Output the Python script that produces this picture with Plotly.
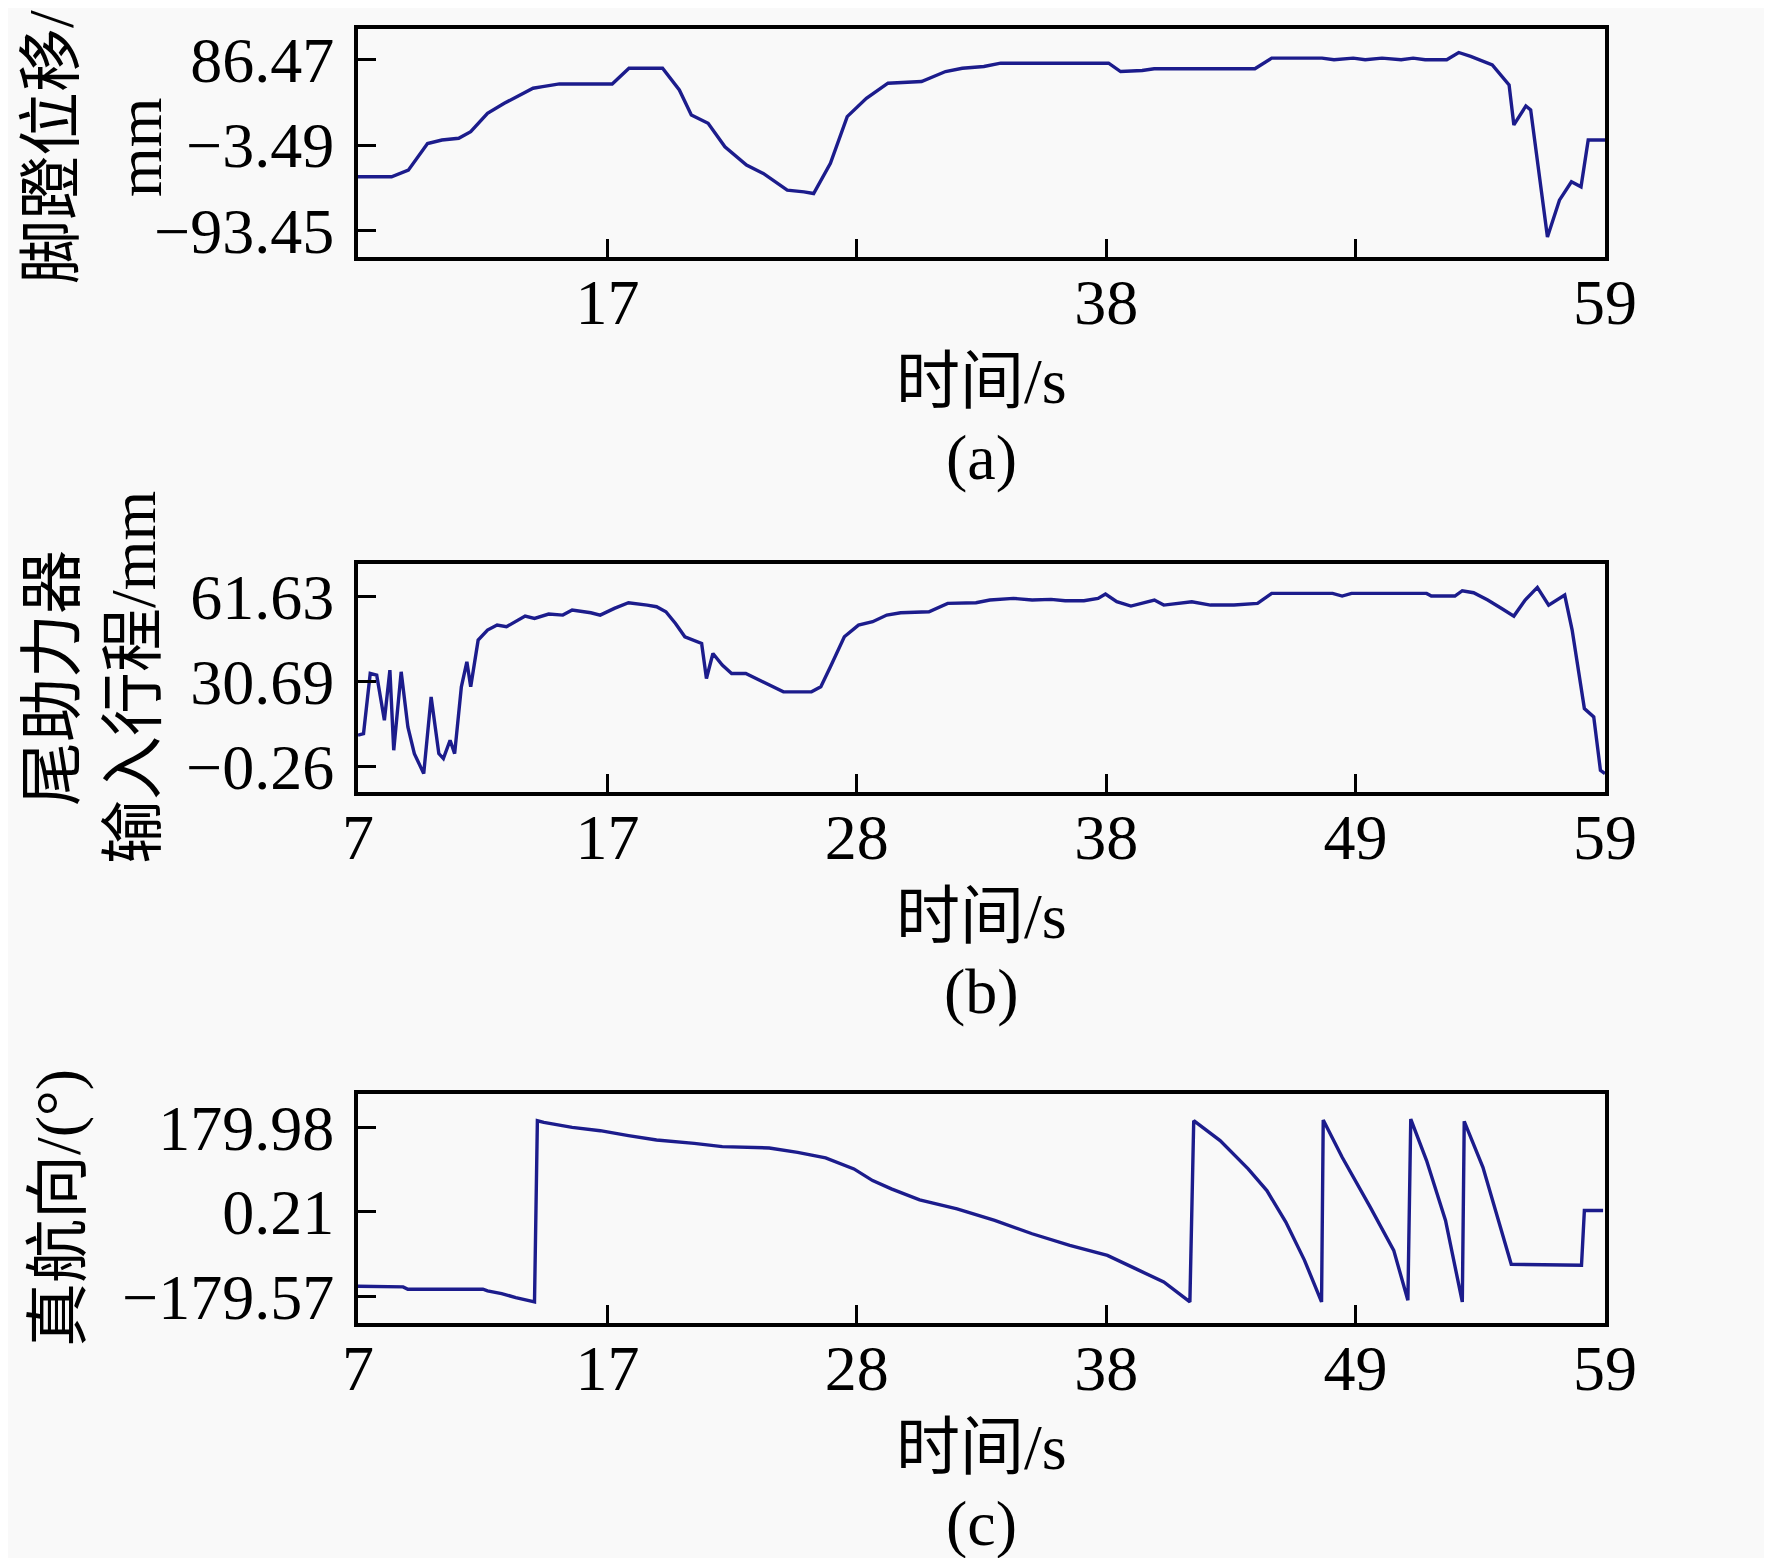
import plotly.graph_objects as go

# ---------------- data ----------------
time_a = [7.0, 7.2, 8.4, 9.1, 9.9, 10.5, 11.2, 11.7, 12.4, 13.1, 14.0, 14.3, 14.7, 15.4,
          17.6, 18.3, 19.7, 20.4, 20.9, 21.6, 22.3, 23.2, 23.9, 24.9, 25.6, 26.0, 26.7,
          27.4, 28.2, 29.1, 30.5, 31.5, 32.2, 33.1, 33.8, 38.3, 38.8, 39.7, 40.2, 44.4,
          45.1, 47.2, 47.7, 48.5, 49.0, 49.7, 50.5, 51.0, 51.5, 52.4, 52.9, 53.4, 54.3,
          55.0, 55.2, 55.7, 55.9, 56.2, 56.6, 57.1, 57.6, 58.0, 58.3, 59.0]
pedal_mm = [-37.0, -37.0, -37.0, -30.0, -2.0, 1.8, 3.6, 10.6, 30.0, 40.6, 52.0, 56.5, 58.2, 61.0,
            61.0, 77.6, 77.6, 54.7, 28.3, 19.4, -5.3, -24.7, -33.5, -51.1, -52.9, -54.7, -22.9,
            26.5, 45.9, 61.8, 63.5, 74.1, 77.6, 79.4, 82.9, 82.9, 74.1, 75.2, 77.0, 77.0,
            88.2, 88.2, 86.5, 88.2, 86.5, 88.2, 86.5, 88.2, 86.5, 86.5, 94.2, 90.0, 81.2,
            60.0, 17.7, 37.8, 33.6, -26.4, -100.5, -61.7, -42.3, -47.6, 1.8, 1.8]

time_b = [7.00, 7.23, 7.51, 7.78, 8.10, 8.33, 8.49, 8.80, 9.08, 9.35, 9.74, 10.05, 10.37, 10.56,
          10.84, 11.03, 11.31, 11.54, 11.70, 12.01, 12.40, 12.80, 13.19, 13.58, 13.97, 14.36,
          14.95, 15.54, 15.93, 16.71, 17.10, 17.69, 18.28, 19.06, 19.45, 19.84, 20.24, 20.63,
          21.02, 21.33, 21.53, 21.80, 22.19, 22.58, 23.17, 23.76, 24.15, 24.74, 25.91, 26.30,
          26.70, 27.28, 27.87, 28.46, 29.05, 29.63, 30.81, 31.59, 32.77, 33.35, 34.33, 35.11,
          35.90, 36.49, 37.27, 37.86, 38.17, 38.64, 39.23, 39.62, 40.21, 40.60, 41.77, 42.55,
          43.53, 44.51, 45.10, 45.49, 47.64, 48.04, 48.43, 51.56, 51.76, 52.74, 53.05, 53.52,
          54.11, 54.69, 55.20, 55.67, 56.18, 56.65, 57.32, 57.63, 58.14, 58.53, 58.81, 59.00]
booster_mm = [11.28, 11.88, 33.72, 33.12, 16.74, 34.94, 5.82, 34.33, 14.31, 4.60, -2.67, 25.23,
              4.60, 2.78, 9.46, 4.60, 28.87, 37.97, 28.87, 45.86, 49.50, 51.32, 50.71, 52.53,
              54.59, 53.74, 55.32, 54.96, 56.78, 55.81, 54.96, 57.38, 59.45, 58.60, 57.99, 56.17,
              51.92, 47.07, 45.86, 44.64, 31.90, 41.00, 36.76, 33.72, 33.72, 31.30, 29.48, 27.05,
              27.05, 28.87, 36.15, 47.07, 51.32, 52.53, 54.96, 55.81, 56.17, 59.20, 59.45, 60.42,
              61.02, 60.42, 60.66, 60.17, 60.17, 61.02, 62.60, 59.81, 58.23, 59.20, 60.42, 58.60,
              59.81, 58.60, 58.60, 59.20, 62.84, 62.84, 62.84, 61.87, 62.84, 62.84, 61.87, 61.87,
              63.81, 63.09, 60.42, 57.38, 54.59, 60.42, 65.03, 58.60, 62.23, 49.50, 20.98, 17.95,
              -1.46, -2.67]

time_c = [7.00, 8.88, 9.08, 12.21, 12.40, 12.99, 13.58, 14.36, 14.48, 14.75, 15.93, 17.10,
          18.28, 19.45, 21.02, 22.19, 24.15, 25.33, 26.50, 27.68, 28.46, 29.24, 30.42, 31.98,
          33.55, 35.11, 36.68, 38.25, 39.42, 40.60, 41.69, 41.85, 42.95, 44.12, 44.90, 45.69,
          46.47, 47.18, 47.25, 48.04, 49.21, 50.19, 50.78, 50.90, 51.56, 52.35, 53.05, 53.13,
          53.91, 55.09, 58.02, 58.14, 58.92]
heading_deg = [-158.3, -159.7, -164.7, -164.7, -168.2, -173.9, -182.4, -191.6, 194.1, 190.6,
               180.0, 172.9, 162.3, 153.1, 146.0, 138.9, 136.1, 126.9, 114.9, 91.5, 66.7, 49.0,
               25.6, 6.6, -18.2, -46.5, -71.3, -92.5, -120.8, -149.1, -191.6, 194.1, 151.7, 91.5,
               45.5, -21.7, -103.1, -191.6, 195.5, 116.3, 10.1, -81.9, -188.1, 197.7, 109.2,
               -18.2, -191.6, 192.7, 95.05, -111.6, -113.7, 3.04, 3.04]

x_tickvals = [7.0, 17.4, 27.8, 38.2, 48.6, 59.0]
x_ticktext_full = ["7", "17", "28", "38", "49", "59"]
x_ticktext_a = ["", "17", "", "38", "", "59"]

y_tickvals_a = [-93.45, -3.49, 86.47]
y_ticktext_a = ["\u221293.45", "\u22123.49", "86.47"]
y_tickvals_b = [-0.26, 30.69, 61.63]
y_ticktext_b = ["\u22120.26", "30.69", "61.63"]
y_tickvals_c = [-179.57, 0.21, 179.98]
y_ticktext_c = ["\u2212179.57", "0.21", "179.98"]

x_title = "时间/s"
panel_labels = ["(a)", "(b)", "(c)"]
y_title_a = ["脚蹬位移/", "mm"]
y_title_b = ["尾助力器", "输入行程/mm"]
y_title_c = ["真航向/(°)"]

# ---------------- layout geometry (page pixels, page body has 8px margin) ----------------
OFF = 8
W, H = 1772 - 2 * OFF, 1566 - 2 * OFF
L, R = 358 - OFF, 1605 - OFF
T, B = 29 - OFF, 1323 - OFF
AH = B - T


def py(y):
    return (B - (y - OFF)) / AH


def px(x):
    return ((x - OFF) - L) / (R - L)


FONT = "Liberation Serif, Times New Roman, Noto Sans CJK SC"
FS = 64
LINE = "#1c1c8c"
BG = "#f9f9f9"

fig = go.Figure()
fig.add_trace(go.Scatter(x=time_a, y=pedal_mm, mode="lines", line=dict(color=LINE, width=3.4),
                         xaxis="x", yaxis="y", showlegend=False))
fig.add_trace(go.Scatter(x=time_b, y=booster_mm, mode="lines", line=dict(color=LINE, width=3.4),
                         xaxis="x2", yaxis="y2", showlegend=False))
fig.add_trace(go.Scatter(x=time_c, y=heading_deg, mode="lines", line=dict(color=LINE, width=3.4),
                         xaxis="x3", yaxis="y3", showlegend=False))

common_axis = dict(showline=True, linecolor="black", linewidth=4, mirror=True,
                   showgrid=False, zeroline=False, ticks="inside", ticklen=18,
                   tickwidth=3, tickcolor="black",
                   tickfont=dict(family=FONT, size=FS, color="black"))

doms = [(py(257), py(29)), (py(792), py(564)), (py(1323), py(1094))]
yr = [[-121.7, 119.0], [-9.36, 73.53], [-236.5, 251.0]]
yt = [(y_tickvals_a, y_ticktext_a), (y_tickvals_b, y_ticktext_b), (y_tickvals_c, y_ticktext_c)]
xtexts = [x_ticktext_a, x_ticktext_full, x_ticktext_full]

layout = dict(width=W, height=H, margin=dict(l=L, r=W - R, t=T, b=H - B),
              paper_bgcolor=BG, plot_bgcolor=BG, showlegend=False,
              font=dict(family=FONT, size=FS, color="black"))
for i in range(3):
    sx = "" if i == 0 else str(i + 1)
    layout["xaxis" + sx] = dict(common_axis, domain=[0, 1], range=[7, 59],
                                anchor="y" + sx, tickvals=x_tickvals, ticktext=xtexts[i],
                                ticklabelstandoff=-14)
    layout["yaxis" + sx] = dict(common_axis, domain=[max(0, doms[i][0]), min(1, doms[i][1])],
                                range=yr[i], anchor="x" + sx, tickvals=yt[i][0],
                                ticktext=yt[i][1], ticklabelstandoff=7)
fig.update_layout(**layout)

bottoms = [257, 792, 1323]
ann = []
for i in range(3):
    ann.append(dict(text=x_title, x=0.5, y=py(bottoms[i] + 124), xref="paper", yref="paper",
                    showarrow=False, xanchor="center", yanchor="middle",
                    font=dict(family=FONT, size=FS, color="black")))
    ann.append(dict(text=panel_labels[i], x=0.5, y=py(bottoms[i] + 200), xref="paper", yref="paper",
                    showarrow=False, xanchor="center", yanchor="middle",
                    font=dict(family=FONT, size=FS, color="black")))

ytitles = [(y_title_a, [52, 140], 147), (y_title_b, [52, 133], 678), (y_title_c, [58], 1208)]
for lines, xs, yc in ytitles:
    for t, xx in zip(lines, xs):
        ann.append(dict(text=t, x=px(xx), y=py(yc), xref="paper", yref="paper",
                        showarrow=False, textangle=-90, xanchor="center", yanchor="middle",
                        font=dict(family=FONT, size=FS, color="black")))
fig.update_layout(annotations=ann)

fig.write_html("out.html")
